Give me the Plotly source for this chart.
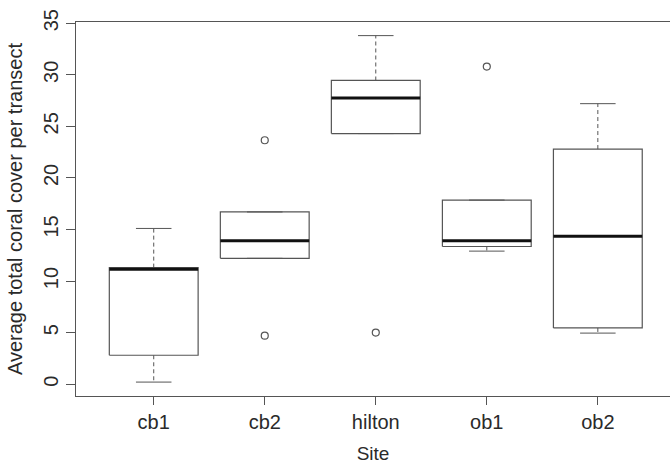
import plotly.graph_objects as go

sites = ["cb1", "cb2", "hilton", "ob1", "ob2"]
lower_whisker = [0.2, 12.2, 24.3, 12.9, 4.95]
q1 = [2.8, 12.2, 24.3, 13.35, 5.45]
median = [11.15, 13.9, 27.75, 13.9, 14.35]
q3 = [11.3, 16.7, 29.45, 17.85, 22.8]
upper_whisker = [15.1, 16.7, 33.8, 17.85, 27.2]
outlier_site = ["cb2", "cb2", "hilton", "ob1"]
outlier_value = [23.65, 4.7, 5.0, 30.8]

BOX_HALF = 0.4
CAP_HALF = 0.16
LINE_COL = "#555555"
FONT = "Liberation Sans, Arial, sans-serif"

pos = {s: i + 1 for i, s in enumerate(sites)}

bx, by, wx, wy, cx, cy, mx, my = [], [], [], [], [], [], [], []
for s, lw, a, m, b, uw in zip(sites, lower_whisker, q1, median, q3, upper_whisker):
    p = pos[s]
    bx += [p - BOX_HALF, p + BOX_HALF, p + BOX_HALF, p - BOX_HALF, p - BOX_HALF, None]
    by += [a, a, b, b, a, None]
    wx += [p, p, None, p, p, None]
    wy += [b, uw, None, a, lw, None]
    cx += [p - CAP_HALF, p + CAP_HALF, None, p - CAP_HALF, p + CAP_HALF, None]
    cy += [uw, uw, None, lw, lw, None]
    mx += [p - BOX_HALF, p + BOX_HALF, None]
    my += [m, m, None]

fig = go.Figure()
fig.add_trace(go.Scatter(x=wx, y=wy, mode="lines",
                         line=dict(color=LINE_COL, width=1, dash="4px,3px"),
                         hoverinfo="skip", showlegend=False))
fig.add_trace(go.Scatter(x=cx, y=cy, mode="lines",
                         line=dict(color=LINE_COL, width=1),
                         hoverinfo="skip", showlegend=False))
fig.add_trace(go.Scatter(x=bx, y=by, mode="lines",
                         line=dict(color=LINE_COL, width=1.2),
                         hoverinfo="skip", showlegend=False))
fig.add_trace(go.Scatter(x=mx, y=my, mode="lines",
                         line=dict(color="#111111", width=3),
                         hoverinfo="skip", showlegend=False))
fig.add_trace(go.Scatter(x=[pos[s] for s in outlier_site], y=outlier_value,
                         mode="markers",
                         marker=dict(symbol="circle-open", size=7,
                                     color=LINE_COL, line=dict(width=1.2)),
                         showlegend=False))

fig.update_layout(
    width=670, height=464,
    margin=dict(l=76, r=0, t=22, b=68, autoexpand=False),
    paper_bgcolor="white", plot_bgcolor="white",
    font=dict(family=FONT, size=20, color="#2a2a2a"),
    xaxis=dict(
        range=[0.3, 5.65], automargin=False,
        tickmode="array", tickvals=[pos[s] for s in sites], ticktext=sites,
        showgrid=False, zeroline=False,
        showline=True, linecolor=LINE_COL, linewidth=1.2, mirror=True,
        ticks="outside", ticklen=8, tickcolor=LINE_COL,
        title=dict(text="Site", standoff=15, font=dict(size=19)),
    ),
    yaxis=dict(
        range=[-1.15, 35.12], automargin=False,
        tickmode="array", tickvals=[0, 5, 10, 15, 20, 25, 30, 35],
        tickangle=-90,
        showgrid=False, zeroline=False,
        showline=True, linecolor=LINE_COL, linewidth=1.2,
        ticks="outside", ticklen=9, tickcolor=LINE_COL,
        title=dict(text="Average total coral cover per transect", standoff=11,
                   font=dict(size=20)),
    ),
)

fig.write_html(
    "out.html",
    config={"displayModeBar": False},
    post_script="document.body.style.margin='0';document.body.style.overflow='hidden';",
)
